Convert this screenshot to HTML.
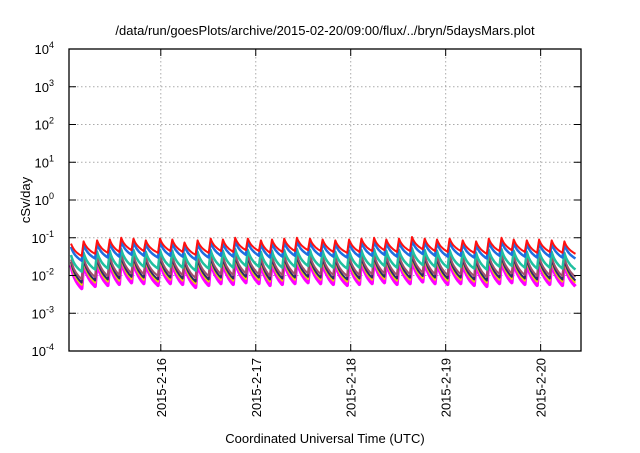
<!DOCTYPE html>
<html><head><meta charset="utf-8"><style>
body{margin:0;background:#fff;width:640px;height:448px;overflow:hidden}
svg{font-family:"Liberation Sans",sans-serif}
</style></head><body>
<svg width="640" height="448">
<text x="325" y="35" font-size="13" text-anchor="middle">/data/run/goesPlots/archive/2015-02-20/09:00/flux/../bryn/5daysMars.plot</text>
<text transform="translate(30,200) rotate(-90)" font-size="13" text-anchor="middle">cSv/day</text>
<text x="325" y="443" font-size="13" text-anchor="middle">Coordinated Universal Time (UTC)</text>
<g id="grid"></g>
<g id="series"></g>
<rect x="69" y="49" width="512" height="302" fill="none" stroke="#000" stroke-width="1.3"/>
<g id="axes"></g>
</svg>
<script>
// data
const yDecades = [-4,-3,-2,-1,0,1,2,3,4];
const dayLabels = ["2015-2-16","2015-2-17","2015-2-18","2015-2-19","2015-2-20"];
const dayHours = [23.2,47.2,71.2,95.2,119.2]; // hours from plot start
const peakHours = [0,3.2,6.6,9.8,12.7,15.8,18.9,22.5,25.6,28.7,32.0,35.3,38.4,41.5,44.7,48.0,50.8,53.9,57.1,60.4,63.6,66.8,70.3,73.4,76.6,79.7,82.9,86.2,89.4,92.5,95.7,99.0,102.4,105.6,108.8,111.9,115.2,118.3,121.5,124.7,128];
const peakVals = [0.07,0.08,0.085,0.09,0.1,0.095,0.085,0.095,0.09,0.075,0.085,0.095,0.09,0.1,0.095,0.085,0.09,0.095,0.1,0.095,0.09,0.085,0.09,0.095,0.1,0.09,0.095,0.105,0.095,0.09,0.095,0.085,0.08,0.095,0.1,0.09,0.085,0.09,0.085,0.08,0.075];
const seriesNames = ["magenta","yellow","dark","brown","teal","blue","red"];
const seriesRatio = [0.27,0.3,0.33,0.38,0.5,0.82,1];
const seriesTrough = [0.24,0.27,0.28,0.3,0.36,0.43,0.47];
const seriesColors = ["#ff00ff","#e8d800","#2a2a6a","#a0506a","#20c0a0","#1e6fe0","#ff1010"];
const seriesWidth = [3.5,2,2,2,2.5,2.5,2];
const totalHours = 129.4;

const X0=69,X1=581,Y0=49,Y1=351,RISE=0.5,A=1.5;
const xs=h=>X0+(h/totalHours)*(X1-X0);
const ys=v=>Y1-(Math.log10(v)+4)/8*(Y1-Y0);
const NS="http://www.w3.org/2000/svg";
function mk(t,a,p){const e=document.createElementNS(NS,t);for(const k in a)e.setAttribute(k,a[k]);p.appendChild(e);return e;}
const svg=document.querySelector('svg');
const cp=mk('clipPath',{id:'c'},svg);mk('rect',{x:X0,y:Y0,width:X1-X0,height:Y1-Y0},cp);
const grid=document.getElementById('grid'),axes=document.getElementById('axes'),ser=document.getElementById('series');
yDecades.forEach(d=>{
  const y=Y1-(d+4)/8*(Y1-Y0);
  if(d>-4&&d<4){const l=mk('line',{x1:X0,x2:X1,y1:y,y2:y,stroke:'#aaa','stroke-dasharray':'1.5,2.5'},grid);
  }
  const t1=mk('line',{x1:X0,x2:X0+7,y1:y,y2:y,stroke:'#000'},axes);
  
  mk('line',{x1:X1-7,x2:X1,y1:y,y2:y,stroke:'#000'},axes);
  const tx=mk('text',{x:54,y:y+5,'font-size':13,'text-anchor':'end'},axes);
  
  tx.textContent='10';const s=mk('tspan',{dy:-6,'font-size':9},tx);s.textContent=String(d);
});
dayHours.forEach((h,i)=>{
  const x=xs(h);
  const l=mk('line',{x1:x,x2:x,y1:Y0,y2:Y1,stroke:'#aaa','stroke-dasharray':'1.5,2.5'},grid);
  
  const t=mk('line',{x1:x,x2:x,y1:Y1-7,y2:Y1,stroke:'#000'},axes);
  
  mk('line',{x1:x,x2:x,y1:Y0,y2:Y0+7,stroke:'#000'},axes);
  const tx=mk('text',{transform:`translate(${x+5},358) rotate(-90)`,'font-size':13,'text-anchor':'end'},axes);
  
  tx.textContent=dayLabels[i];
});
seriesNames.forEach((nm,si)=>{
  let pts=[];
  for(let i=0;i<peakHours.length-1;i++){
    const t0=peakHours[i]+RISE,t1=peakHours[i+1],p=peakVals[i]*seriesRatio[si];
    const T=t1-t0,n=-Math.log(seriesTrough[si])/Math.log(1+A*T);
    for(let s=0;s<=12;s++){const t=t0+T*s/12;pts.push([xs(t),ys(p*Math.pow(1+A*(t-t0),-n))]);}
  }
  const pl=mk('polyline',{points:pts.map(p=>p[0].toFixed(1)+','+p[1].toFixed(1)).join(' '),fill:'none',stroke:seriesColors[si],'stroke-width':seriesWidth[si],'stroke-linejoin':'round','clip-path':'url(#c)'},ser);
  
});
</script>
</body></html>
